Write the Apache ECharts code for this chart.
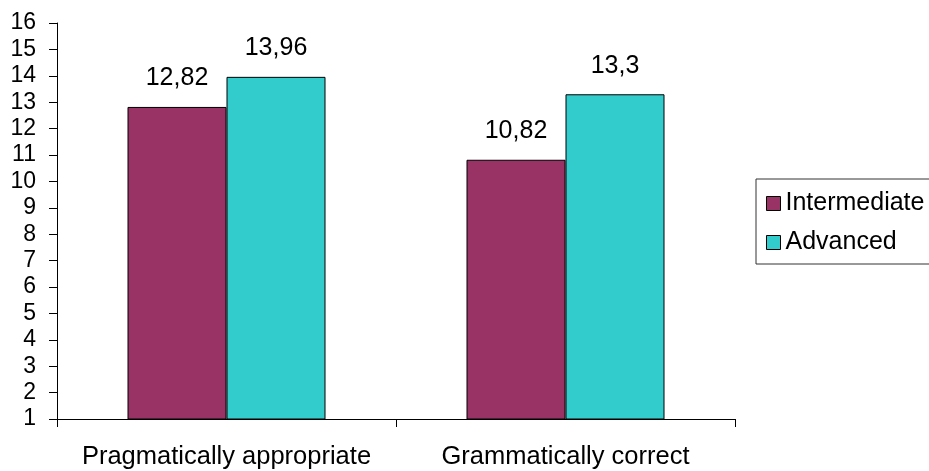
<!DOCTYPE html>
<html>
<head>
<meta charset="utf-8">
<title>Pragmatic vs grammatical scores</title>
<script src="https://cdn.jsdelivr.net/npm/echarts@6/dist/echarts.min.js"></script>
<style>
  html, body { margin: 0; padding: 0; background: #fff; }
  #chart { width: 929px; height: 471px; }
</style>
</head>
<body>
<div id="chart"></div>
<script>
// Mean scores per measure and proficiency group
const categories = ['Pragmatically appropriate', 'Grammatically correct'];
const intermediate = [12.82, 10.82];
const advanced = [13.96, 13.3];
const yTicks = { min: 1, max: 16, interval: 1 };

const fontFamily = '"Liberation Sans", Arial, sans-serif';
const commaDecimal = p => String(p.value).replace('.', ',');

const chart = echarts.init(document.getElementById('chart'), null, { renderer: 'canvas' });

chart.setOption({
  backgroundColor: '#ffffff',
  animation: false,
  textStyle: { fontFamily: fontFamily, color: '#000' },
  grid: { left: 57, right: 194, top: 23, bottom: 52, containLabel: false },
  legend: {
    orient: 'vertical',
    left: 756,
    top: 179,
    padding: [12, 12, 9, 10],
    itemGap: 14,
    itemWidth: 14,
    itemHeight: 14,
    itemTextGap: 11,
    icon: 'rect',
    borderColor: '#333',
    borderWidth: 1,
    itemStyle: { borderColor: '#000', borderWidth: 1 },
    textStyle: { fontSize: 25, fontFamily: fontFamily, color: '#000' },
    data: ['Intermediate', 'Advanced']
  },
  xAxis: {
    type: 'category',
    data: categories,
    boundaryGap: true,
    axisLine: { lineStyle: { color: '#000', width: 1 } },
    axisTick: { show: true, length: 8, alignWithLabel: false, lineStyle: { color: '#000' } },
    axisLabel: { interval: 0, fontSize: 25.5, color: '#000', margin: 25, fontFamily: fontFamily }
  },
  yAxis: {
    type: 'value',
    min: yTicks.min,
    max: yTicks.max,
    interval: yTicks.interval,
    axisLine: { show: true, lineStyle: { color: '#000', width: 1 } },
    axisTick: { show: true, length: 8, lineStyle: { color: '#000' } },
    splitLine: { show: false },
    axisLabel: { fontSize: 23, color: '#000', margin: 21, fontFamily: fontFamily }
  },
  series: [
    {
      name: 'Intermediate',
      type: 'bar',
      data: intermediate,
      barWidth: 99,
      barGap: '0%',
      itemStyle: { color: '#993366', borderColor: '#000', borderWidth: 1 },
      label: {
        show: true, position: 'top', distance: 16,
        fontSize: 25, color: '#000', fontFamily: fontFamily,
        formatter: commaDecimal
      }
    },
    {
      name: 'Advanced',
      type: 'bar',
      data: advanced,
      barWidth: 99,
      barGap: '0%',
      itemStyle: { color: '#33CCCC', borderColor: '#000', borderWidth: 1 },
      label: {
        show: true, position: 'top', distance: 16,
        fontSize: 25, color: '#000', fontFamily: fontFamily,
        formatter: commaDecimal
      }
    }
  ]
});
</script>
</body>
</html>
